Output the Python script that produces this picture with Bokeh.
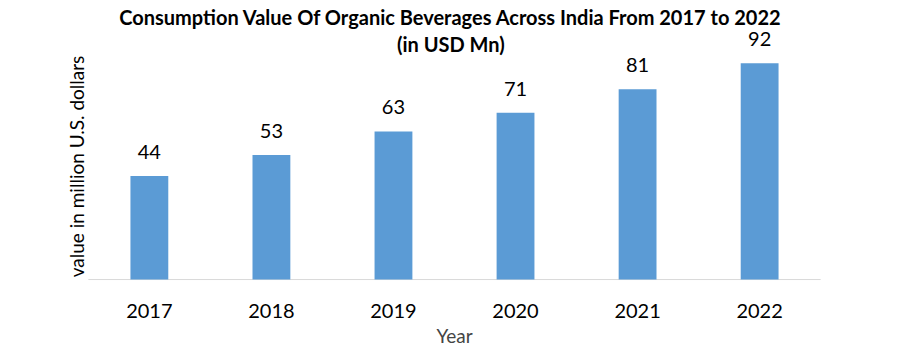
import math
from bokeh.plotting import figure
from bokeh.models import ColumnDataSource, Range1d, FactorRange
from bokeh.core.properties import value
from bokeh.embed import file_html
from bokeh.resources import INLINE

years = ["2017", "2018", "2019", "2020", "2021", "2022"]
values = [44, 53, 63, 71, 81, 92]
labels = [str(v) for v in values]
title_line1 = "Consumption Value Of Organic Beverages Across India From 2017 to 2022"
title_line2 = "(in USD Mn)"
y_title = "value in million U.S. dollars"
x_title = "Year"

FONT = "Lato"
src = ColumnDataSource(dict(x=years, top=values, label=labels))

xr = FactorRange(factors=years, range_padding=0.31, range_padding_units="absolute")
p = figure(x_range=xr, y_range=Range1d(-0.4, 118.7), width=924, height=350,
           output_backend="svg", toolbar_location=None,
           min_border_left=50, min_border_right=66, min_border_top=0, min_border_bottom=70)

# baseline
p.segment(x0=[0], x1=[6], y0=[0], y1=[0], line_color="#d9d9d9", line_width=1)

p.vbar(x="x", top="top", bottom=0, width=0.31, source=src, color="#5B9BD5", line_color=None)
p.text(x="x", y="top", text="label", source=src, text_align="center", text_baseline="middle",
       y_offset=-24, text_font=value(FONT), text_font_size="20px", text_color="#000000")

# title lines
p.text(x=[2.97], y=[111.5], text=[title_line1], text_align="center", text_baseline="middle",
       text_font=value(FONT), text_font_size="20px", text_font_style="bold", text_color="#000000")
p.text(x=[2.97], y=[100.0], text=[title_line2], text_align="center", text_baseline="middle",
       text_font=value(FONT), text_font_size="20px", text_font_style="bold", text_color="#000000")

# y-axis title
p.text(x=[-0.098], y=[48.1], text=[y_title], angle=math.pi / 2, text_align="center",
       text_baseline="middle", text_font=value(FONT), text_font_size="19px", text_color="#000000")

p.outline_line_color = None
p.xgrid.grid_line_color = None
p.ygrid.grid_line_color = None
p.background_fill_color = "white"
p.border_fill_color = "white"

xa = p.xaxis[0]
xa.axis_line_color = None
xa.major_tick_line_color = None
xa.minor_tick_line_color = None
xa.major_label_text_font = FONT
xa.major_label_text_font_size = "20px"
xa.major_label_text_color = "#000000"
xa.major_label_standoff = 17
xa.axis_label = x_title
xa.axis_label_text_font = FONT
xa.axis_label_text_font_size = "19px"
xa.axis_label_text_font_style = "normal"
xa.axis_label_standoff = 3

p.yaxis.visible = False

open("out.html", "w").write(file_html(p, INLINE))
